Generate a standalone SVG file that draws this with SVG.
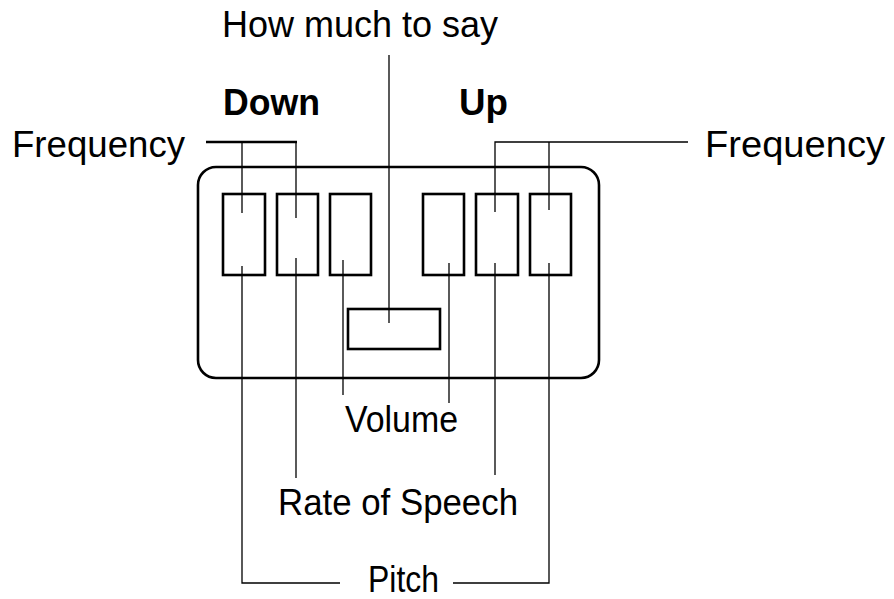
<svg xmlns="http://www.w3.org/2000/svg" width="894" height="599" viewBox="0 0 894 599">
<style>
  .lbl { font-family: "Liberation Sans", Arial, sans-serif; font-size: 36px; fill: #000; }
  .bold { font-weight: bold; font-size: 37px; }
  .box { fill: none; stroke: #000; stroke-width: 2.6; }
  .wire { fill: none; stroke: #000; stroke-width: 1.3; }
</style>
<rect width="894" height="599" fill="#fff"/>
<g id="panel">
  <rect class="box" x="198" y="167" width="401" height="211" rx="18" ry="18"/>
</g>
<g id="btn1"><rect class="box" x="223" y="194" width="42" height="81"/></g>
<g id="btn2"><rect class="box" x="277" y="194" width="41" height="81"/></g>
<g id="btn3"><rect class="box" x="330" y="194" width="41" height="81"/></g>
<g id="btn4"><rect class="box" x="423" y="194" width="41" height="81"/></g>
<g id="btn5"><rect class="box" x="476" y="194" width="42" height="81"/></g>
<g id="btn6"><rect class="box" x="530" y="194" width="41" height="81"/></g>
<g id="btnHowMuch"><rect class="box" x="348" y="309" width="92" height="40"/></g>
<g id="connectors">
  <line x1="206" y1="142" x2="297" y2="142" stroke="#000" stroke-width="2.4"/>
  <polyline class="wire" points="242,213 242,142"/>
  <polyline class="wire" points="296,218 296,142"/>
  <polyline class="wire" points="688,142 495,142 495,212"/>
  <polyline class="wire" points="549,142 549,210"/>
  <polyline class="wire" points="389,55 389,323"/>
  <polyline class="wire" points="242,266 242,583 340,583"/>
  <polyline class="wire" points="453,583 549,583 549,263"/>
  <polyline class="wire" points="296,258 296,478"/>
  <polyline class="wire" points="495,263 495,475"/>
  <polyline class="wire" points="343,260 343,395"/>
  <polyline class="wire" points="449,263 449,403"/>
</g>
<g id="labels">
  <text class="lbl" x="222" y="37" textLength="276" lengthAdjust="spacingAndGlyphs">How much to say</text>
  <text class="lbl bold" x="223" y="115" textLength="97" lengthAdjust="spacingAndGlyphs">Down</text>
  <text class="lbl bold" x="459" y="115" textLength="49" lengthAdjust="spacingAndGlyphs">Up</text>
  <text class="lbl" x="12" y="157" textLength="173" lengthAdjust="spacingAndGlyphs">Frequency</text>
  <text class="lbl" x="705" y="157" textLength="180" lengthAdjust="spacingAndGlyphs">Frequency</text>
  <text class="lbl" x="345" y="432" textLength="113" lengthAdjust="spacingAndGlyphs">Volume</text>
  <text class="lbl" x="278" y="515" textLength="240" lengthAdjust="spacingAndGlyphs">Rate of Speech</text>
  <text class="lbl" x="368" y="592" font-size="35" textLength="71" lengthAdjust="spacingAndGlyphs">Pitch</text>
</g>
</svg>
